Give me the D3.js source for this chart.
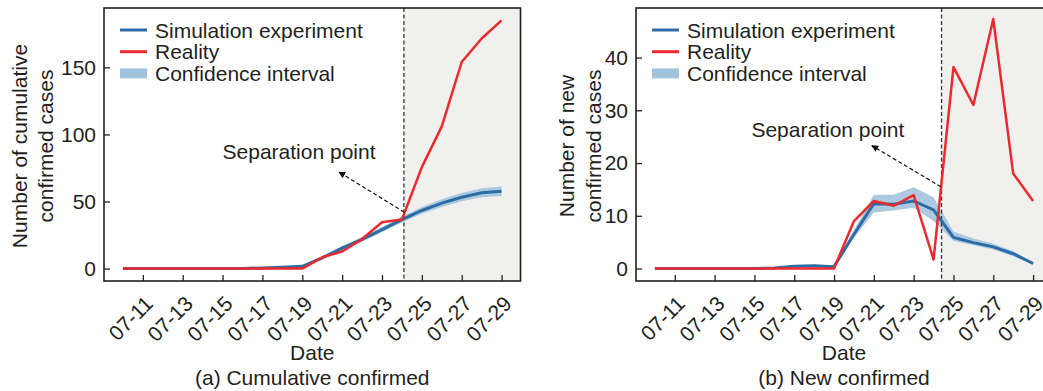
<!DOCTYPE html>
<html>
<head>
<meta charset="utf-8">
<script src="https://cdn.jsdelivr.net/npm/d3@7"></script>
<style>
  body { margin: 0; background: #fff; }
  svg text { font-family: 'Liberation Sans', Arial, sans-serif; fill: #231f20; }
</style>
</head>
<body>
<div id="svg-container"></div>
<script>
// Dates (x categories)
const dates = ['07-10', '07-11', '07-12', '07-13', '07-14', '07-15', '07-16', '07-17', '07-18', '07-19',
               '07-20', '07-21', '07-22', '07-23', '07-24', '07-25', '07-26', '07-27', '07-28', '07-29'];
const xTickLabels = ['07-11', '07-13', '07-15', '07-17', '07-19', '07-21', '07-23', '07-25', '07-27', '07-29'];

// (a) cumulative confirmed
const cumSim  = [0, 0, 0, 0, 0, 0, 0.1, 0.5, 1.0, 1.7, 8.0, 15.3, 21.8, 29.0, 36.5, 43.3, 48.8, 53.2, 56.5, 57.7];
const cumLow  = [0, 0, 0, 0, 0, 0, 0, 0.2, 0.5, 1.0, 6.8, 13.8, 20.0, 27.0, 34.3, 40.8, 46.0, 50.2, 53.2, 54.2];
const cumHigh = [0, 0, 0, 0, 0, 0, 0.3, 0.8, 1.5, 2.4, 9.2, 16.8, 23.6, 31.0, 38.8, 45.9, 51.7, 56.3, 59.8, 61.2];
const cumReal = [0, 0, 0, 0, 0, 0, 0, 0, 0, 0, 8.4, 12.7, 22.0, 34.6, 36.6, 75.6, 106, 154, 171.5, 185];
const cumTicks = [0, 50, 100, 150];

// (b) new confirmed
const newSim  = [0, 0, 0, 0, 0, 0, 0.1, 0.45, 0.5, 0.35, 6.5, 12.3, 12.2, 12.8, 11.1, 5.9, 4.9, 4.1, 2.8, 0.95];
const newLow  = [0, 0, 0, 0, 0, 0, 0, 0.3, 0.3, 0.2, 5.8, 10.6, 11.0, 11.5, 9.0, 5.2, 4.4, 3.6, 2.3, 0.7];
const newHigh = [0, 0, 0, 0, 0, 0, 0.2, 0.6, 0.7, 0.5, 7.3, 14.0, 14.0, 15.4, 13.5, 7.0, 5.7, 4.7, 3.3, 1.2];
const newReal = [0, 0, 0, 0, 0, 0, 0, 0, 0, 0, 9.0, 12.8, 11.9, 13.9, 1.7, 38.2, 31.0, 47.3, 18.0, 12.8];
const newTicks = [0, 10, 20, 30, 40];

// Setting SVG dimentions
const w = 1043;
const h = 391;
const fs = '21px';

const blue = '#2c6ca4';
const red = '#ec2a2e';
const band = '#a3c3dd';

const svg = d3.select('#svg-container')
              .append('svg')
              .attr('width', w)
              .attr('height', h);

// arrow marker for the annotation
svg.append('defs')
   .append('marker')
   .attr('id', 'arrow')
   .attr('viewBox', '0 0 10 10')
   .attr('refX', 9)
   .attr('refY', 5)
   .attr('markerWidth', 7)
   .attr('markerHeight', 7)
   .attr('markerUnits', 'userSpaceOnUse')
   .attr('orient', 'auto')
   .append('path')
   .attr('d', 'M0,0 L10,5 L0,10 z')
   .attr('fill', '#111');

const dayOf = s => +s.slice(3);

function drawPanel(p) {
  const x = d3.scaleLinear().domain([9.05, 29.95]).range([p.left, p.right]);
  const y = d3.scaleLinear().domain(p.yDomain).range([281, 8]);
  const g = svg.append('g');

  const rows = dates.map((d, i) => ({
    day: dayOf(d), sim: p.sim[i], lo: p.low[i], hi: p.high[i], real: p.real[i]
  }));

  // grey region after the separation point
  g.append('rect')
   .attr('x', x(p.sep))
   .attr('y', y.range()[1])
   .attr('width', x.range()[1] - x(p.sep))
   .attr('height', y.range()[0] - y.range()[1])
   .attr('fill', '#f0f0ef');

  // confidence band
  g.append('path')
   .datum(rows)
   .attr('fill', band)
   .attr('opacity', 0.9)
   .attr('d', d3.area().x(d => x(d.day)).y0(d => y(d.lo)).y1(d => y(d.hi)));

  // separation line
  g.append('line')
   .attr('x1', x(p.sep)).attr('x2', x(p.sep))
   .attr('y1', y.range()[1]).attr('y2', y.range()[0])
   .attr('stroke', '#333')
   .attr('stroke-width', 1.3)
   .attr('stroke-dasharray', '4,2.5');

  g.append('path')
   .datum(rows)
   .attr('fill', 'none')
   .attr('stroke', blue)
   .attr('stroke-width', 3)
   .attr('d', d3.line().x(d => x(d.day)).y(d => y(d.sim)));

  g.append('path')
   .datum(rows)
   .attr('fill', 'none')
   .attr('stroke', red)
   .attr('stroke-width', 2.5)
   .attr('stroke-linejoin', 'round')
   .attr('d', d3.line().x(d => x(d.day)).y(d => y(d.real)));

  // annotation
  g.append('line')
   .attr('x1', x(p.arrowFrom[0])).attr('y1', y(p.arrowFrom[1]))
   .attr('x2', x(p.arrowTo[0])).attr('y2', y(p.arrowTo[1]))
   .attr('stroke', '#111')
   .attr('stroke-width', 1.2)
   .attr('stroke-dasharray', '4,2.5')
   .attr('marker-end', 'url(#arrow)');
  g.append('text')
   .attr('x', x(p.textAt[0]))
   .attr('y', y(p.textAt[1]))
   .style('font-size', fs)
   .text('Separation point');

  // #Axes
  const yAxis = d3.axisLeft(y).tickValues(p.yTicks).tickSizeInner(-6).tickSizeOuter(0).tickPadding(8);
  const xAxis = d3.axisBottom(x).tickValues(xTickLabels.map(dayOf)).tickSizeInner(-6).tickSizeOuter(0)
                  .tickFormat(d => xTickLabels.find(s => dayOf(s) === d));
  const ya = g.append('g').attr('transform', 'translate(' + p.left + ',0)').call(yAxis);
  ya.selectAll('text').style('font-size', fs).attr('fill', '#231f20');
  const xa = g.append('g').attr('transform', 'translate(0,281)').call(xAxis);
  xa.selectAll('text')
    .style('font-size', fs)
    .attr('fill', '#231f20')
    .attr('text-anchor', 'end')
    .attr('dy', null)
    .attr('y', null)
    .attr('transform', 'translate(11,24) rotate(-45)');
  g.selectAll('.domain').remove();
  g.selectAll('.tick line').attr('stroke', '#231f20').attr('stroke-width', 1.3);

  // frame
  g.append('rect')
   .attr('x', p.left).attr('y', 8)
   .attr('width', p.right - p.left).attr('height', 273)
   .attr('fill', 'none')
   .attr('stroke', '#231f20')
   .attr('stroke-width', 1.6);

  // legend
  const items = [
    { label: 'Simulation experiment', type: 'line', color: blue },
    { label: 'Reality', type: 'line', color: red },
    { label: 'Confidence interval', type: 'band', color: band }
  ];
  const legend = g.selectAll('.legend')
                  .data(items)
                  .enter()
                  .append('g')
                  .attr('transform', (d, i) => 'translate(' + (p.left + 16) + ',' + (30 + i * 21.7) + ')');
  legend.filter(d => d.type === 'line')
        .append('line')
        .attr('x1', 0).attr('x2', 27)
        .attr('stroke', d => d.color)
        .attr('stroke-width', 3);
  legend.filter(d => d.type === 'band')
        .append('rect')
        .attr('x', 0).attr('y', -5).attr('width', 27).attr('height', 10)
        .attr('fill', d => d.color);
  legend.append('text')
        .attr('x', 35)
        .attr('y', 7.5)
        .style('font-size', fs)
        .text(d => d.label);

  // axis titles
  const cx = (p.left + p.right) / 2;
  g.append('text').attr('x', cx).attr('y', 360).attr('text-anchor', 'middle')
   .style('font-size', fs).text('Date');
  g.append('text').attr('x', cx).attr('y', 385).attr('text-anchor', 'middle')
   .style('font-size', fs).text(p.caption);
  p.yTitle.forEach((t, i) => {
    g.append('text')
     .attr('transform', 'translate(' + (p.yTitleX + i * 26.5) + ',146) rotate(-90)')
     .attr('text-anchor', 'middle')
     .style('font-size', fs)
     .text(t);
  });
}

drawPanel({
  left: 104, right: 520.5, yDomain: [-9.25, 194.25], yTicks: cumTicks,
  sim: cumSim, low: cumLow, high: cumHigh, real: cumReal, sep: 24.1,
  arrowFrom: [24.12, 42], arrowTo: [20.84, 72], textAt: [15.0, 82],
  caption: '(a) Cumulative confirmed', yTitle: ['Number of cumulative', 'confirmed cases'], yTitleX: 26.5
});

drawPanel({
  left: 636, right: 1052, yDomain: [-2.37, 49.4], yTicks: newTicks,
  sim: newSim, low: newLow, high: newHigh, real: newReal, sep: 24.4,
  arrowFrom: [24.37, 15.5], arrowTo: [20.9, 23.3], textAt: [14.85, 25],
  caption: '(b) New confirmed', yTitle: ['Number of new', 'confirmed cases'], yTitleX: 574
});
</script>
</body>
</html>
